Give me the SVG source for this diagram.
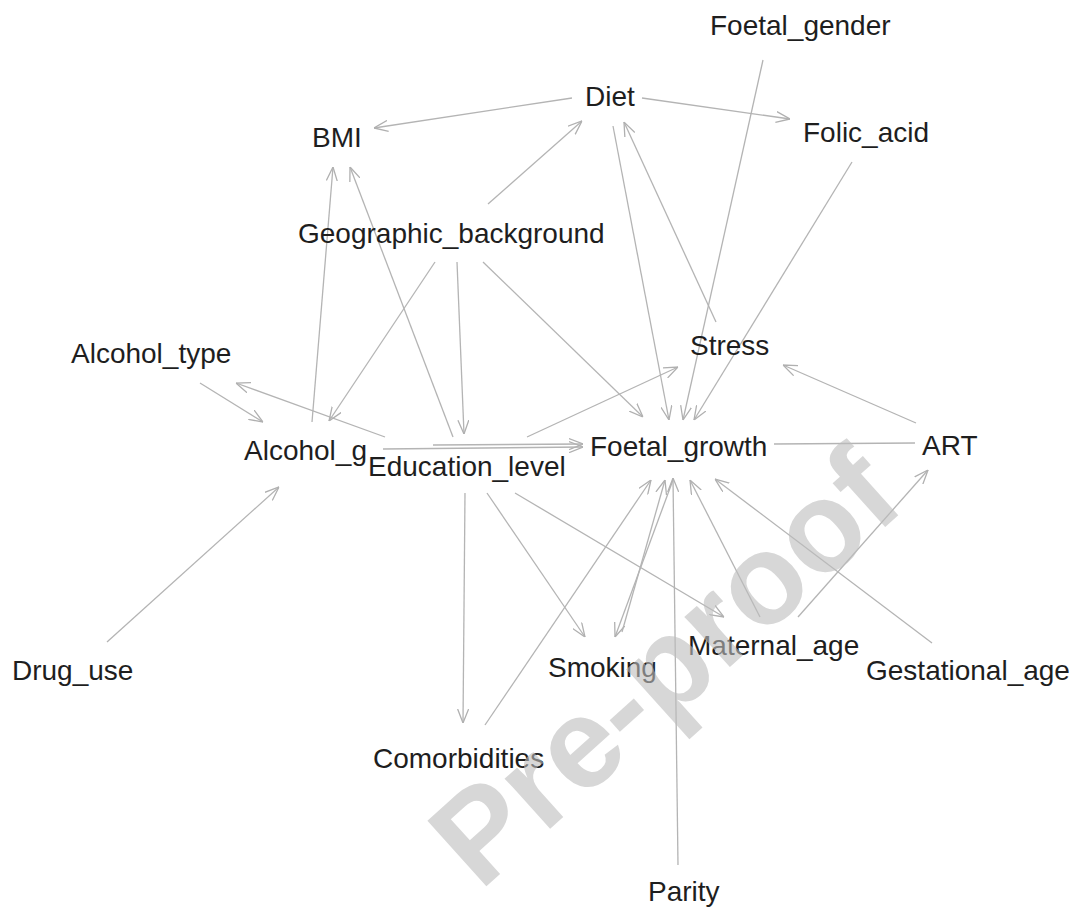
<svg xmlns="http://www.w3.org/2000/svg" width="1076" height="914" viewBox="0 0 1076 914">
<defs>
<marker id="arr" viewBox="0 0 14 12" refX="14" refY="6" markerWidth="14" markerHeight="12" markerUnits="userSpaceOnUse" orient="auto">
<path d="M0,0.5 L14,6 L0,11.5" fill="none" stroke="#b0b0b0" stroke-width="1.3"/>
</marker>
<style>
.e{stroke:#b4b4b4;stroke-width:1.3;fill:none;marker-end:url(#arr)}
.u{stroke:#b4b4b4;stroke-width:1.3;fill:none}
.n text{font-family:"Liberation Sans",Arial,sans-serif;font-size:28px;fill:#1e1e1e}
.wm{font-family:"Liberation Sans",Arial,sans-serif;font-size:128px;font-weight:bold;fill:#bdbdbd;opacity:0.6}
</style>
</defs>
<rect width="1076" height="914" fill="#ffffff"/>
<g id="connectors">
<line class="e" x1="572" y1="98" x2="374" y2="128"/>
<line class="e" x1="642" y1="98" x2="790" y2="119"/>
<line class="e" x1="488" y1="204" x2="582" y2="121"/>
<line class="e" x1="613" y1="126" x2="669" y2="420"/>
<line class="e" x1="716" y1="322" x2="624" y2="122"/>
<line class="e" x1="763" y1="60" x2="683" y2="420"/>
<line class="e" x1="852" y1="162" x2="694" y2="420"/>
<line class="e" x1="483" y1="262" x2="643" y2="417"/>
<line class="e" x1="527" y1="437" x2="678" y2="367"/>
<line class="e" x1="916" y1="423" x2="783" y2="365"/>
<line class="u" x1="915" y1="443" x2="774" y2="444"/>
<line class="e" x1="798" y1="617" x2="928" y2="470"/>
<line class="e" x1="932" y1="643" x2="715" y2="479"/>
<line class="e" x1="515" y1="493" x2="724" y2="617"/>
<line class="e" x1="760" y1="617" x2="690" y2="480"/>
<line class="e" x1="485" y1="725" x2="651" y2="480"/>
<line class="e" x1="673" y1="480" x2="615" y2="637"/>
<line class="e" x1="622" y1="632" x2="665" y2="480"/>
<line class="e" x1="678" y1="865" x2="673" y2="478"/>
<line class="e" x1="487" y1="493" x2="585" y2="637"/>
<line class="e" x1="465" y1="493" x2="463" y2="723"/>
<line class="e" x1="383" y1="449" x2="583" y2="447"/>
<line class="e" x1="433" y1="445" x2="583" y2="444"/>
<line class="e" x1="385" y1="437" x2="236" y2="383"/>
<line class="e" x1="200" y1="383" x2="263" y2="422"/>
<line class="e" x1="107" y1="642" x2="279" y2="487"/>
<line class="e" x1="312" y1="422" x2="333" y2="167"/>
<line class="e" x1="453" y1="437" x2="350" y2="167"/>
<line class="e" x1="435" y1="262" x2="329" y2="421"/>
<line class="e" x1="457" y1="262" x2="464" y2="434"/>
</g>
<g class="n">
<g id="n-Foetal_gender"><text x="710" y="35">Foetal_gender</text></g>
<g id="n-Diet"><text x="585" y="106">Diet</text></g>
<g id="n-BMI"><text x="312" y="147">BMI</text></g>
<g id="n-Folic_acid"><text x="803" y="142">Folic_acid</text></g>
<g id="n-Geographic_background"><text x="298" y="243">Geographic_background</text></g>
<g id="n-Stress"><text x="690" y="355">Stress</text></g>
<g id="n-Alcohol_type"><text x="71" y="363">Alcohol_type</text></g>
<g id="n-Alcohol_g"><text x="244" y="460">Alcohol_g</text></g>
<g id="n-Education_level"><text x="368" y="476">Education_level</text></g>
<g id="n-Foetal_growth"><text x="590" y="456">Foetal_growth</text></g>
<g id="n-ART"><text x="922" y="455">ART</text></g>
<g id="n-Drug_use"><text x="12" y="680">Drug_use</text></g>
<g id="n-Smoking"><text x="548" y="677">Smoking</text></g>
<g id="n-Maternal_age"><text x="688" y="655">Maternal_age</text></g>
<g id="n-Gestational_age"><text x="866" y="680">Gestational_age</text></g>
<g id="n-Comorbidities"><text x="373" y="768">Comorbidities</text></g>
<g id="n-Parity"><text x="648" y="901">Parity</text></g>
</g>
<g id="watermark">
<text class="wm" transform="translate(480,892) rotate(-42)">Pre-proof</text>
</g>
</svg>
